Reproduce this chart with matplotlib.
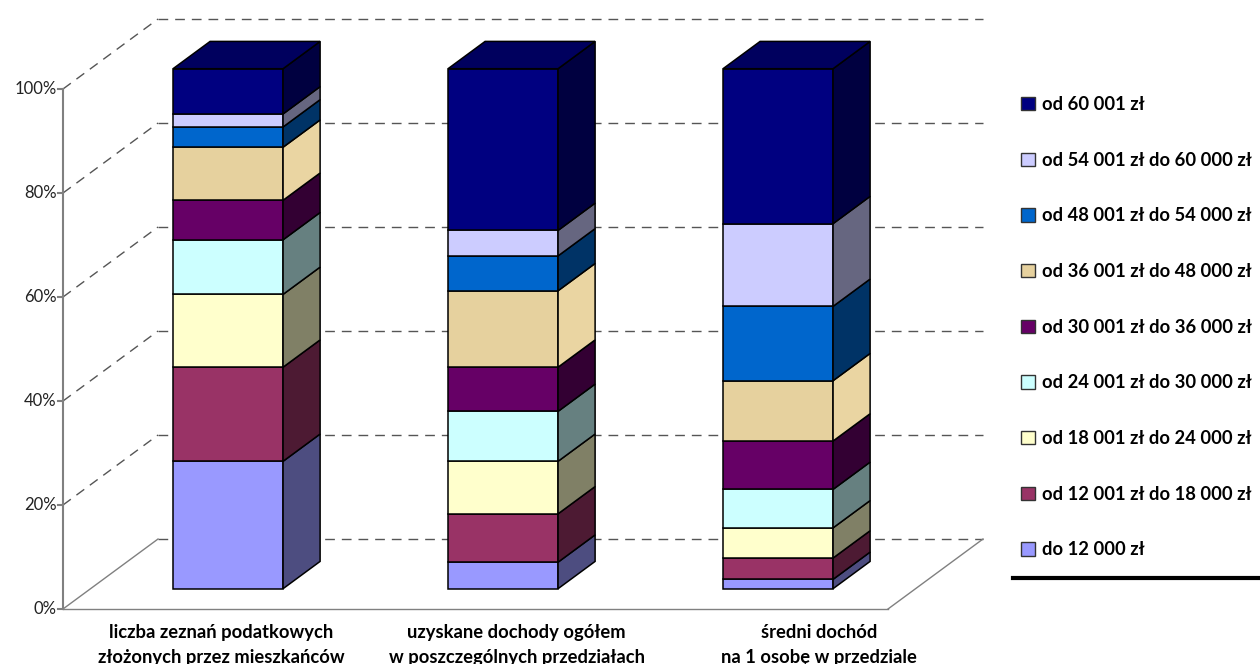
import numpy as np
import matplotlib
matplotlib.use('agg')
import matplotlib.pyplot as plt
from matplotlib.patches import Polygon, Patch

plt.rcParams['font.family'] = ['Lato', 'DejaVu Sans']

# income brackets, bottom to top of each stack
brackets = ['do 12 000 zł', 'od 12 001 zł do 18 000 zł', 'od 18 001 zł do 24 000 zł',
            'od 24 001 zł do 30 000 zł', 'od 30 001 zł do 36 000 zł', 'od 36 001 zł do 48 000 zł',
            'od 48 001 zł do 54 000 zł', 'od 54 001 zł do 60 000 zł', 'od 60 001 zł']
categories = ['liczba zeznań podatkowych\nzłożonych przez mieszkańców',
              'uzyskane dochody ogółem\nw poszczególnych przedziałach',
              'średni dochód\nna 1 osobę w przedziale']
# shares in percent, one list per category
zeznania = [24.5, 18.1, 14.0, 10.5, 7.6, 10.2, 3.9, 2.5, 8.7]
dochody = [5.1, 9.3, 10.1, 9.6, 8.5, 14.7, 6.7, 4.9, 31.1]
sredni = [1.8, 4.1, 5.8, 7.4, 9.3, 11.6, 14.3, 15.9, 29.8]
yticks = [0, 20, 40, 60, 80, 100]

front_col = ['#9999FF', '#993366', '#FFFFCC', '#CCFFFF', '#660066',
             '#E6D19E', '#0066CC', '#CCCCFF', '#000080']
side_col = ['#4D4D80', '#4D1A33', '#808066', '#668080', '#330033',
            '#EAD5A2', '#003366', '#666680', '#000040']
top_col = '#00005E'

# oblique depth vector (category units, percent units)
DX, DY = 0.3455, 13.46
d0, d1 = 0.29, 0.68
width = 0.4

fig = plt.figure(figsize=(12.6, 6.64), dpi=100)
ax = fig.add_axes([0, 0, 1, 1])
ax.set_xlim(-63 / 275, 1197 / 275)
ax.set_ylim(-55 / 5.2, 609 / 5.2)
ax.axis('off')

grid_kw = dict(color='#555555', lw=1, dashes=(7, 5), zorder=1)
# back wall gridlines and side wall diagonals
for v in yticks:
    ax.plot([DX, 3 + DX], [v + DY, v + DY], **grid_kw)
    if v > 0:
        ax.plot([0, DX], [v, v + DY], **grid_kw)
# floor outline
ax.plot([0, DX], [0, DY], color='#808080', lw=1, zorder=1)
ax.plot([0, 3], [0, 0], color='#808080', lw=1, zorder=1)
ax.plot([3, 3 + DX], [0, DY], color='#808080', lw=1, zorder=1)
# value axis
ax.plot([0, 0], [0, 100], color='#808080', lw=1.5, zorder=2)
for v in yticks:
    ax.plot([-0.018, 0], [v, v], color='#808080', lw=1.5, zorder=2)
    ax.text(-0.024, v, f'{v}%', ha='right', va='center', fontsize=12, color='#222222')


def face(pts, fc):
    ax.add_patch(Polygon(pts, closed=True, facecolor=fc, edgecolor='black',
                         lw=1.1, joinstyle='miter', zorder=5))


for i, vals in enumerate([zeznania, dochody, sredni]):
    x0 = i + 0.5 - width / 2
    x1 = x0 + width
    cum = np.concatenate([[0], np.cumsum(vals)])
    for k in range(len(vals)):
        b, t = cum[k], cum[k + 1]
        fx, fy = d0 * DX, d0 * DY
        bx, by = d1 * DX, d1 * DY
        face([(x0 + fx, b + fy), (x1 + fx, b + fy), (x1 + fx, t + fy), (x0 + fx, t + fy)], front_col[k])
        face([(x1 + fx, b + fy), (x1 + bx, b + by), (x1 + bx, t + by), (x1 + fx, t + fy)], side_col[k])
    t = cum[-1]
    face([(x0 + d0 * DX, t + d0 * DY), (x1 + d0 * DX, t + d0 * DY),
          (x1 + d1 * DX, t + d1 * DY), (x0 + d1 * DX, t + d1 * DY)], top_col)

label_x = [0.575, 1.65, 2.75]
for lx, lab in zip(label_x, categories):
    ax.text(lx, -2.8, lab, ha='center', va='top', fontsize=13.2, fontweight='bold',
            linespacing=1.6)

handles = [Patch(facecolor=front_col[k], edgecolor='#333333', lw=1) for k in range(len(brackets))][::-1]
leg = fig.legend(handles, brackets[::-1], loc='upper left', bbox_to_anchor=(1021 / 1260, 1 - 96 / 664),
                 frameon=False, borderpad=0, borderaxespad=0, handlelength=0.75, handleheight=0.75,
                 handletextpad=0.4, labelspacing=2.11, prop=dict(size=13.2, weight='bold'))
fig.add_artist(plt.Line2D([1013 / 1260, 1], [1 - 578 / 664, 1 - 578 / 664], color='black', lw=3))

plt.savefig('out.png', dpi=100)
